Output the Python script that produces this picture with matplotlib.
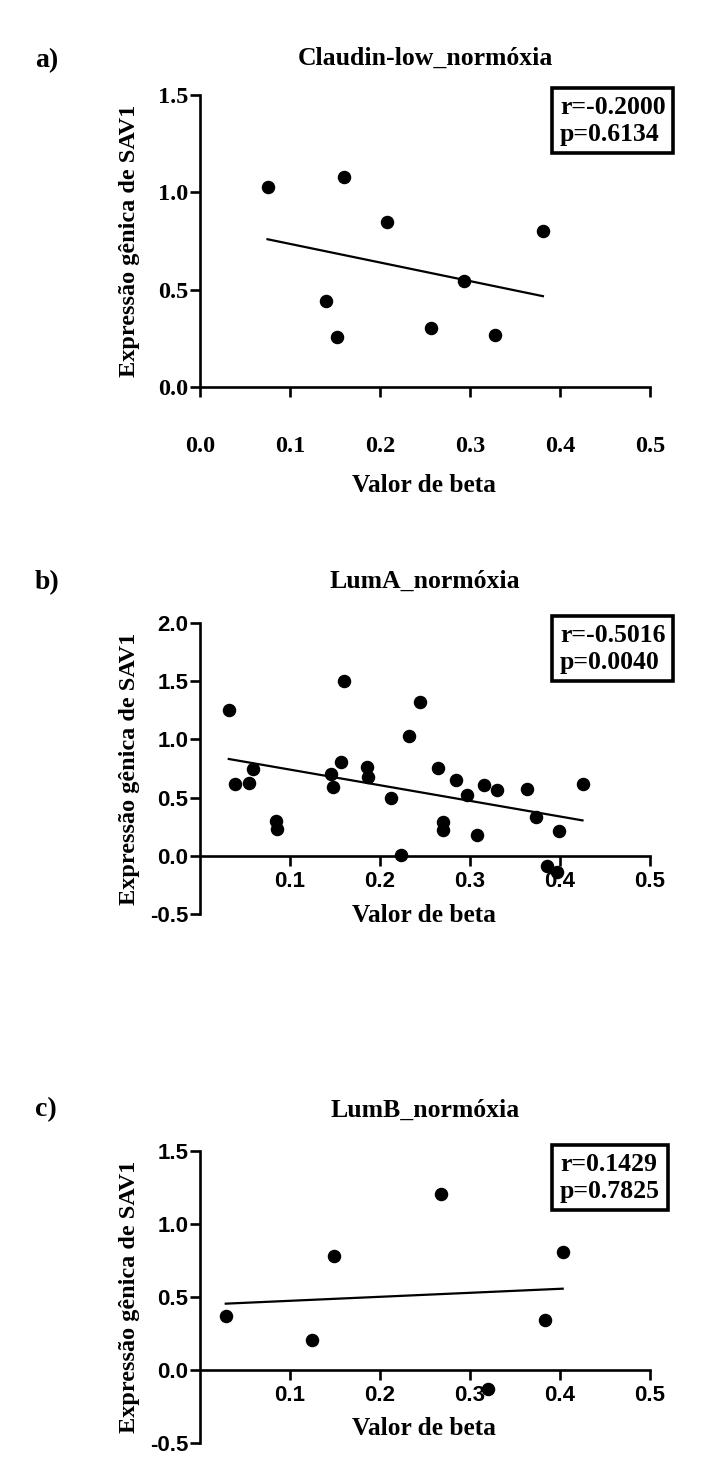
import numpy as np
import matplotlib
matplotlib.use("Agg")
import matplotlib.pyplot as plt

# ---------------- data ----------------
titles = ["Claudin-low_normóxia", "LumA_normóxia", "LumB_normóxia"]
panel_letters = ["a)", "b)", "c)"]
stats_text = ["r=-0.2000\np=0.6134", "r=-0.5016\np=0.0040", "r=0.1429\np=0.7825"]
xlabel = "Valor de beta"
ylabel = "Expressão gênica de SAV1"

a_x = [0.075, 0.160, 0.208, 0.381, 0.293, 0.140, 0.152, 0.257, 0.328]
a_y = [1.029, 1.078, 0.849, 0.801, 0.543, 0.442, 0.255, 0.305, 0.269]

b_x = [0.032, 0.039, 0.054, 0.059, 0.0845, 0.086, 0.146, 0.148, 0.157, 0.160,
       0.185, 0.187, 0.212, 0.223, 0.232, 0.244, 0.2645, 0.270, 0.270, 0.2845,
       0.297, 0.308, 0.316, 0.330, 0.363, 0.373, 0.386, 0.397, 0.399, 0.425]
b_y = [1.252, 0.616, 0.625, 0.745, 0.295, 0.226, 0.702, 0.587, 0.802, 1.504,
       0.759, 0.676, 0.493, 0.006, 1.026, 1.318, 0.756, 0.289, 0.218, 0.648,
       0.524, 0.178, 0.610, 0.564, 0.576, 0.330, -0.086, -0.135, 0.215, 0.616]

c_x = [0.0286, 0.124, 0.149, 0.268, 0.320, 0.383, 0.403]
c_y = [0.372, 0.205, 0.781, 1.205, -0.130, 0.342, 0.810]

a_xticks = [0.0, 0.1, 0.2, 0.3, 0.4, 0.5]
a_yticks = [0.0, 0.5, 1.0, 1.5]
b_xticks = [0.1, 0.2, 0.3, 0.4, 0.5]
b_yticks = [-0.5, 0.0, 0.5, 1.0, 1.5, 2.0]
c_xticks = [0.1, 0.2, 0.3, 0.4, 0.5]
c_yticks = [-0.5, 0.0, 0.5, 1.0, 1.5]

# ---------------- layout (pixels) ----------------
W, H = 721, 1474
fig = plt.figure(figsize=(W / 100, H / 100), dpi=100)
fig.patch.set_facecolor("white")

SERIF = "Liberation Serif"
SANS = "Liberation Sans"


def px(x):
    return x / W


def py(y):
    return 1 - y / H


panels = [
    dict(x=a_x, y=a_y, xt=a_xticks, yt=a_yticks, ylim=(0, 1.5), top=95, bot=387,
         tickfont=SERIF, tsize=17.5, xpad=28, title_base=65, letter_base=67,
         xlabel_base=492, box_top=96, spine0=False),
    dict(x=b_x, y=b_y, xt=b_xticks, yt=b_yticks, ylim=(-0.5, 2.0), top=623, bot=914,
         tickfont=SANS, tsize=16, xpad=4, title_base=588, letter_base=589,
         xlabel_base=922, box_top=624, spine0=True),
    dict(x=c_x, y=c_y, xt=c_xticks, yt=c_yticks, ylim=(-0.5, 1.5), top=1151, bot=1443,
         tickfont=SANS, tsize=16, xpad=4, title_base=1117, letter_base=1116,
         xlabel_base=1435, box_top=1153, spine0=True),
]

L, R = 200, 650
for i, p in enumerate(panels):
    ax = fig.add_axes([px(L), py(p["bot"]), px(R - L), (p["bot"] - p["top"]) / H])
    ax.set_xlim(0, 0.5)
    ax.set_ylim(*p["ylim"])
    for s in ["top", "right"]:
        ax.spines[s].set_visible(False)
    for s in ["left", "bottom"]:
        ax.spines[s].set_linewidth(1.9)
        ax.spines[s].set_color("black")
    if p["spine0"]:
        ax.spines["bottom"].set_position(("data", 0))
    ax.set_xticks(p["xt"])
    ax.set_yticks(p["yt"])
    ax.set_xticklabels([f"{v:.1f}" for v in p["xt"]])
    ax.set_yticklabels([f"{v:.1f}" for v in p["yt"]])
    ax.tick_params(axis="both", direction="out", length=7, width=1.9, color="black")
    ax.tick_params(axis="x", pad=p["xpad"])
    ax.tick_params(axis="y", pad=1.5)
    for lab in ax.get_xticklabels() + ax.get_yticklabels():
        lab.set_fontfamily(p["tickfont"])
        lab.set_fontweight("bold")
        lab.set_fontsize(p["tsize"])

    xs = np.array(p["x"])
    ys = np.array(p["y"])
    ax.plot(xs, ys, "o", color="black", markersize=8.7, clip_on=False, zorder=3)
    slope, inter = np.polyfit(xs, ys, 1)
    xl = np.array([xs.min(), xs.max()])
    ax.plot(xl, slope * xl + inter, color="black", lw=1.6, clip_on=False, zorder=2)

    # titles and labels
    fig.text(px(425), py(p["title_base"]), titles[i], ha="center", va="baseline",
             fontfamily=SERIF, fontweight="bold", fontsize=18.5)
    fig.text(px(35), py(p["letter_base"]), panel_letters[i], ha="left", va="baseline",
             fontfamily=SERIF, fontweight="bold", fontsize=20)
    fig.text(px(424), py(p["xlabel_base"]), xlabel, ha="center", va="baseline",
             fontfamily=SERIF, fontweight="bold", fontsize=18.3)
    fig.text(px(130), py((p["top"] + p["bot"]) / 2), ylabel, ha="center", va="center",
             rotation=90, fontfamily=SERIF, fontweight="bold", fontsize=17.5)
    fig.text(px(560), py(p["box_top"]), stats_text[i], ha="left", va="top",
             fontfamily=SERIF, fontweight="bold", fontsize=18.5, linespacing=1.2,
             bbox=dict(boxstyle="square,pad=0.3", fc="white", ec="black", lw=2.6))

fig.savefig("out.png", dpi=100, facecolor="white")
